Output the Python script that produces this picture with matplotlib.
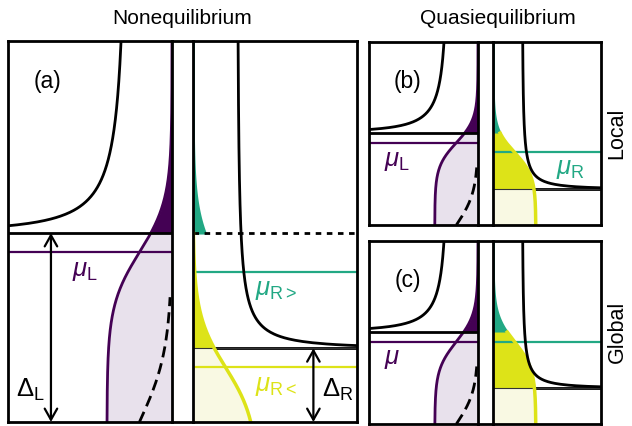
import numpy as np
import matplotlib
matplotlib.use('Agg')
import matplotlib.pyplot as plt

plt.rcParams['font.family'] = 'Liberation Sans'
plt.rcParams['mathtext.fontset'] = 'custom'
plt.rcParams['mathtext.rm'] = 'Liberation Sans'
plt.rcParams['mathtext.it'] = 'Liberation Sans:italic'

PURPLE = '#440154'
PURPLE_LIGHT = '#e8e1ec'
TEAL = '#22a884'
YELLOW = '#dde318'
YELLOW_LIGHT = '#f9f9e3'

W, H = 632, 426

# energies in units of the left gap, horizontal axis in units of f = 1
F_MAX = 2.52
DOS_N0 = 0.68
GAMMA = 0.004
F_CUT = 0.03   # dashed equilibrium curve is drawn only where f > F_CUT

panel_labels = ['(a)', '(b)', '(c)']
e_max = [2.016, 1.99, 1.99]
delta_L = [1.0, 1.0, 1.0]
delta_R = [0.39, 0.39, 0.39]
mu_L = [0.898, 0.895, 0.895]
mu_R_hi = [0.795, 0.79, 0.895]    # above delta_L (teal)
mu_R_lo = [0.289, 0.79, 0.895]    # below delta_L (yellow)
temp = [0.14, 0.13, 0.15]
temp_eq = [0.19, 0.18, 0.18]

# pixel boxes: left electrode x0, x1 | right electrode x0, x1 | top, bottom
boxes = [(8, 172, 193, 357, 41, 422),
         (369, 478, 493, 601, 42, 225),
         (369, 478, 493, 601, 241, 424)]


def fermi(E, mu, T):
    return 1.0 / (1.0 + np.exp((E - mu) / T))


def dos(E, gap):
    z = E + 1j * GAMMA
    return DOS_N0 * np.real(z / np.sqrt(z * z - gap * gap))


def px_axes(fig, x0, x1, ytop, ybot):
    ax = fig.add_axes([x0 / W, 1 - ybot / H, (x1 - x0) / W, (ybot - ytop) / H])
    ax.set_xticks([])
    ax.set_yticks([])
    for s in ax.spines.values():
        s.set_linewidth(2.0)
        s.set_zorder(10)
    return ax


fig = plt.figure(figsize=(W / 100, H / 100), dpi=100)
arrow = dict(arrowstyle='<->,head_length=0.8,head_width=0.45',
             color='k', lw=1.6, shrinkA=0, shrinkB=0)

for i in range(3):
    lx0, lx1, rx0, rx1, yt, yb = boxes[i]
    emax, dL, dR = e_max[i], delta_L[i], delta_R[i]
    T = temp[i]

    # left electrode
    axl = px_axes(fig, lx0, lx1, yt, yb)
    axl.set_xlim(F_MAX, 0)
    axl.set_ylim(0, emax)
    e_lo = np.linspace(0, dL, 300)
    e_hi = np.linspace(dL, emax, 400)
    e_all = np.linspace(0, emax, 700)
    axl.fill_betweenx(e_lo, 0, fermi(e_lo, mu_L[i], T), color=PURPLE_LIGHT, lw=0, zorder=1)
    axl.fill_betweenx(e_hi, 0, fermi(e_hi, mu_L[i], T), color=PURPLE, lw=0, zorder=1)
    axl.plot(fermi(e_all, mu_L[i], T), e_all, color=PURPLE, lw=2, zorder=3)
    e_eq = np.linspace(0, temp_eq[i] * np.log(1 / F_CUT - 1), 200)
    axl.plot(fermi(e_eq, 0, temp_eq[i]), e_eq, 'k', ls=(0, (4, 2.2)), lw=2, zorder=3)
    axl.plot(dos(e_hi[1:], dL), e_hi[1:], 'k', lw=2, zorder=4)
    axl.axhline(mu_L[i], color=PURPLE, lw=1.6, zorder=2)
    axl.axhline(dL, color='k', lw=2, zorder=5)

    # right electrode
    axr = px_axes(fig, rx0, rx1, yt, yb)
    axr.set_xlim(0, F_MAX)
    axr.set_ylim(0, emax)
    e_gap = np.linspace(0, dR, 200)
    e_mid = np.linspace(dR, dL, 300)
    e_rhi = np.linspace(dR, emax, 500)
    e_ylw = np.linspace(0, dL, 500)
    axr.fill_betweenx(e_hi, 0, fermi(e_hi, mu_R_hi[i], T), facecolor=TEAL,
                      edgecolor=TEAL, lw=1.5, zorder=1)
    axr.fill_betweenx(e_mid, 0, fermi(e_mid, mu_R_lo[i], T), color=YELLOW, lw=0, zorder=1)
    axr.fill_betweenx(e_gap, 0, fermi(e_gap, mu_R_lo[i], T), color=YELLOW_LIGHT, lw=0, zorder=1)
    axr.plot(fermi(e_ylw, mu_R_lo[i], T), e_ylw, color=YELLOW, lw=2.5, zorder=3)
    axr.plot(dos(e_rhi[1:], dR), e_rhi[1:], 'k', lw=2, zorder=4)
    axr.axhline(dR, color='k', lw=2, zorder=0.5)
    axr.axhline(dR, color='#333333', lw=0.8, zorder=2)
    axr.axhline(mu_R_hi[i], color=TEAL, lw=1.6, zorder=2)
    if mu_R_lo[i] != mu_R_hi[i]:
        axr.axhline(mu_R_lo[i], color=YELLOW, lw=1.6, zorder=2)
        axr.axhline(dL, color='k', lw=2, ls=(0, (2, 2)), zorder=2)

    # barrier: only top and bottom edges
    axb = px_axes(fig, lx1, rx0, yt, yb)
    axb.spines['left'].set_visible(False)
    axb.spines['right'].set_visible(False)
    axb.patch.set_visible(False)

    if i == 0:
        axl.text(1.92, 1.80, panel_labels[i], fontsize=16.5, ha='center', va='center')
        axl.text(1.34, 0.80, r'$\mu_{\rm L}$', color=PURPLE, fontsize=18.5,
                 ha='center', va='center')
        axl.text(2.18, 0.17, r'$\Delta_{\rm L}$', fontsize=18.5, ha='center', va='center')
        axl.annotate('', xy=(1.86, dL), xytext=(1.86, 0), arrowprops=arrow)
        axr.text(1.28, 0.70, r'$\mu_{\rm R{>}}$', color=TEAL, fontsize=18.5,
                 ha='center', va='center')
        axr.text(1.28, 0.19, r'$\mu_{\rm R{<}}$', color=YELLOW, fontsize=18.5,
                 ha='center', va='center')
        axr.text(2.22, 0.17, r'$\Delta_{\rm R}$', fontsize=18.5, ha='center', va='center')
        axr.annotate('', xy=(1.85, dR), xytext=(1.85, 0), arrowprops=arrow)
    else:
        axl.text(1.63, 1.56, panel_labels[i], fontsize=16.5, ha='center', va='center')
        if i == 1:
            axl.text(1.88, 0.70, r'$\mu_{\rm L}$', color=PURPLE, fontsize=18.5,
                     ha='center', va='center')
            axr.text(1.81, 0.61, r'$\mu_{\rm R}$', color=TEAL, fontsize=18.5,
                     ha='center', va='center')
        else:
            axl.text(1.98, 0.71, r'$\mu$', color=PURPLE, fontsize=18.5,
                     ha='center', va='center')

fig.text(182 / W, 1 - 18 / H, 'Nonequilibrium', fontsize=15, ha='center', va='center')
fig.text(498 / W, 1 - 18 / H, 'Quasiequilibrium', fontsize=15, ha='center', va='center')
fig.text(617 / W, 1 - 133 / H, 'Local', fontsize=15.5, rotation=90, ha='center', va='center')
fig.text(617 / W, 1 - 332 / H, 'Global', fontsize=15.5, rotation=90, ha='center', va='center')

fig.savefig('out.png', dpi=100)
